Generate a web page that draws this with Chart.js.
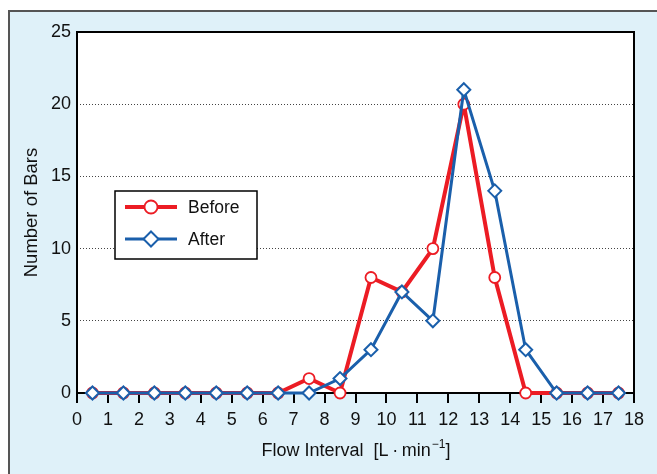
<!DOCTYPE html>
<html>
<head>
<meta charset="utf-8">
<style>
  html, body { margin: 0; padding: 0; background: #fff; }
  #wrap { width: 657px; height: 474px; }
</style>
<script src="https://cdn.jsdelivr.net/npm/chart.js@4/dist/chart.umd.min.js"></script>
</head>
<body>
<div id="wrap"><canvas id="flowChart" width="657" height="474"></canvas></div>
<script>
// flow interval midpoints (L/min) and bar counts
const flowMid = [0.5, 1.5, 2.5, 3.5, 4.5, 5.5, 6.5, 7.5, 8.5, 9.5, 10.5, 11.5, 12.5, 13.5, 14.5, 15.5, 16.5, 17.5];
const before = [0, 0, 0, 0, 0, 0, 0, 1, 0, 8, 7, 10, 20, 8, 0, 0, 0, 0];
const after = [0, 0, 0, 0, 0, 0, 0, 0, 1, 3, 7, 5, 21, 14, 3, 0, 0, 0];
const seriesNames = ['Before', 'After'];
const xTickMin = 0, xTickMax = 18, xStep = 1;
const yTickMin = 0, yTickMax = 25, yStep = 5;
// x title: main part, superscript, closing part
const xTitleParts = ['Flow Interval  [L\u2009\u00B7\u2009min', '\u22121', ']'];
const yTitle = 'Number of Bars';

const RED = '#ec1c24';
const BLUE = '#1a5fab';
const FONT = "'Liberation Sans', Arial, sans-serif";

function toPoints(vals) {
    return flowMid.map((x, i) => ({ x: x, y: vals[i] }));
}

// light blue panel + white plot area + frame
const panelPlugin = {
    id: 'panel',
    beforeDraw(chart) {
        const ctx = chart.ctx;
        const a = chart.chartArea;
        ctx.save();
        ctx.fillStyle = '#fff';
        ctx.fillRect(0, 0, chart.width, chart.height);
        ctx.fillStyle = '#dff1f9';
        ctx.fillRect(8, 10, chart.width - 8, chart.height - 10);
        ctx.strokeStyle = '#555';
        ctx.lineWidth = 2;
        ctx.beginPath();
        ctx.moveTo(9, chart.height);
        ctx.lineTo(9, 11);
        ctx.lineTo(chart.width, 11);
        ctx.stroke();
        ctx.fillStyle = '#fff';
        ctx.fillRect(a.left, a.top, a.right - a.left, a.bottom - a.top);
        ctx.restore();
    },
    beforeDatasetsDraw(chart) {
        const ctx = chart.ctx;
        const a = chart.chartArea;
        ctx.save();
        ctx.strokeStyle = '#000';
        ctx.lineWidth = 2;
        ctx.strokeRect(a.left, a.top, a.right - a.left, a.bottom - a.top);
        ctx.restore();
    }
};

// x axis title with a real superscript
const xTitlePlugin = {
    id: 'xTitle',
    afterDraw(chart) {
        const ctx = chart.ctx;
        const a = chart.chartArea;
        const big = '18px ' + FONT;
        const small = '12px ' + FONT;
        ctx.save();
        ctx.fillStyle = '#111';
        ctx.textBaseline = 'alphabetic';
        ctx.font = big;
        const w0 = ctx.measureText(xTitleParts[0]).width;
        const w2 = ctx.measureText(xTitleParts[2]).width;
        ctx.font = small;
        const w1 = ctx.measureText(xTitleParts[1]).width;
        let x = (a.left + a.right) / 2 - (w0 + w1 + w2) / 2;
        const base = 456;
        ctx.font = big;
        ctx.fillText(xTitleParts[0], x, base);
        x += w0;
        ctx.font = small;
        ctx.fillText(xTitleParts[1], x + 1, base - 8);
        x += w1 + 1;
        ctx.font = big;
        ctx.fillText(xTitleParts[2], x, base);
        ctx.restore();
    }
};

function drawMarker(ctx, style, x, y, r, color, bw) {
    ctx.beginPath();
    if (style === 'circle') {
        ctx.arc(x, y, r, 0, Math.PI * 2);
    } else {
        ctx.moveTo(x, y - r);
        ctx.lineTo(x + r, y);
        ctx.lineTo(x, y + r);
        ctx.lineTo(x - r, y);
        ctx.closePath();
    }
    ctx.fillStyle = '#fff';
    ctx.fill();
    ctx.lineWidth = bw;
    ctx.strokeStyle = color;
    ctx.stroke();
}

// boxed legend inside the plot
const boxLegend = {
    id: 'boxLegend',
    afterDraw(chart) {
        const ctx = chart.ctx;
        ctx.save();
        ctx.fillStyle = '#fff';
        ctx.fillRect(115, 191, 142, 68);
        ctx.strokeStyle = '#000';
        ctx.lineWidth = 1.5;
        ctx.strokeRect(115, 191, 142, 68);
        chart.data.datasets.forEach((ds, i) => {
            const y = 207 + i * 32;
            ctx.strokeStyle = ds.borderColor;
            ctx.lineWidth = ds.borderWidth;
            ctx.beginPath();
            ctx.moveTo(125, y);
            ctx.lineTo(177, y);
            ctx.stroke();
            drawMarker(ctx, ds.pointStyle, 151, y, ds.pointRadius + 1, ds.borderColor, ds.pointBorderWidth);
            ctx.fillStyle = '#111';
            ctx.font = '17.5px ' + FONT;
            ctx.textBaseline = 'middle';
            ctx.fillText(seriesNames[i], 188, y + 1);
        });
        ctx.restore();
    }
};

document.addEventListener('DOMContentLoaded', () => {
    const ctx = document.getElementById('flowChart').getContext('2d');
    new Chart(ctx, {
        type: 'line',
        data: {
            datasets: [
                {
                    label: seriesNames[0],
                    data: toPoints(before),
                    borderColor: RED,
                    borderWidth: 4,
                    pointStyle: 'circle',
                    pointRadius: 5.5,
                    pointBorderWidth: 1.8,
                    pointBackgroundColor: '#fff',
                    pointBorderColor: RED,
                    tension: 0,
                    clip: false,
                    order: 2
                },
                {
                    label: seriesNames[1],
                    data: toPoints(after),
                    borderColor: BLUE,
                    borderWidth: 3,
                    pointStyle: 'rectRot',
                    pointRadius: 6.5,
                    pointBorderWidth: 2,
                    pointBackgroundColor: '#fff',
                    pointBorderColor: BLUE,
                    tension: 0,
                    clip: false,
                    order: 1
                }
            ]
        },
        options: {
            responsive: false,
            animation: false,
            layout: { padding: { top: 32, right: 23, left: 0, bottom: 0 } },
            plugins: {
                legend: { display: false },
                tooltip: { enabled: false }
            },
            scales: {
                x: {
                    type: 'linear',
                    min: xTickMin,
                    max: xTickMax,
                    ticks: {
                        stepSize: xStep,
                        color: '#111',
                        padding: 6,
                        maxRotation: 0,
                        font: { family: FONT, size: 18 }
                    },
                    grid: {
                        drawOnChartArea: false,
                        drawTicks: true,
                        tickLength: 10,
                        color: '#000',
                        lineWidth: 2
                    },
                    border: { display: false },
                    title: { display: false },
                    afterFit: (scale) => { scale.height = 81; }
                },
                y: {
                    min: yTickMin,
                    max: yTickMax,
                    ticks: {
                        stepSize: yStep,
                        color: '#111',
                        padding: 6,
                        font: { family: FONT, size: 18 }
                    },
                    grid: {
                        drawTicks: false,
                        color: '#444',
                        lineWidth: 1
                    },
                    border: { display: false, dash: [1, 2] },
                    title: {
                        display: true,
                        text: yTitle,
                        color: '#111',
                        font: { family: FONT, size: 18.5 },
                        padding: { top: 21, bottom: 0 }
                    },
                    afterFit: (scale) => { scale.width = 77; }
                }
            }
        },
        plugins: [panelPlugin, xTitlePlugin, boxLegend]
    });
});
</script>
</body>
</html>
